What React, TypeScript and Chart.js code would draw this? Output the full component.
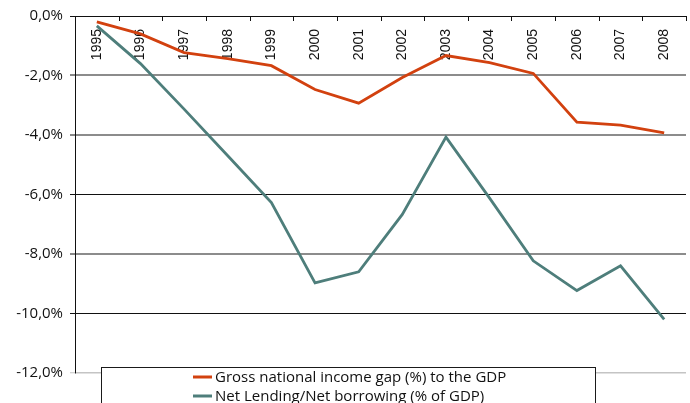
import React, { useEffect, useRef } from "react";
import { Chart, registerables } from "chart.js";

Chart.register(...registerables);

// Years shown along the top of the plot
const years = [
  "1995", "1996", "1997", "1998", "1999", "2000", "2001",
  "2002", "2003", "2004", "2005", "2006", "2007", "2008",
];

// Gross national income gap (%) to the GDP
const incomeGap = [
  -0.2, -0.6, -1.23, -1.43, -1.67, -2.47, -2.93,
  -2.07, -1.33, -1.57, -1.93, -3.57, -3.67, -3.93,
];

// Net lending / net borrowing (% of GDP)
const netLending = [
  -0.33, -1.6, -3.13, -4.7, -6.27, -8.97, -8.6,
  -6.67, -4.07, -6.12, -8.23, -9.23, -8.4, -10.2,
];

const seriesNames = [
  "Gross national income gap (%) to the GDP",
  "Net Lending/Net borrowing (% of GDP)",
];
const seriesColors = ["#d2410f", "#4e7e7b"];

const yMin = -12;
const yMax = 0;
const yStep = 2;

const LABEL_FONT = "14px 'Liberation Sans', Arial, sans-serif";
const TEXT_FONT = "'Open Sans', 'Noto Sans', sans-serif";

const formatPct = (v: number) => v.toFixed(1).replace(".", ",") + "%";

// Grid colours: thin black rules, wider grey rules and a pale bottom rule
const gridColor = (v: number) => {
  if (v === -12) return "#c4c4c4";
  if (v === 0 || v === -6 || v === -10) return "#111111";
  return "#8c8c8c";
};
const gridWidth = (v: number) => {
  if (v === -12) return 1.5;
  if (v === 0 || v === -6 || v === -10) return 1;
  return 2;
};

// Year labels and tick marks hanging inside the plot from its top edge
const topAxisPlugin = {
  id: "topYearAxis",
  beforeDatasetsDraw(chart: any) {
    const { ctx, chartArea, scales } = chart;
    const x = scales.x;
    const n = years.length;
    const centers = years.map((_, i) => x.getPixelForValue(i));
    const bounds: number[] = [chartArea.left];
    for (let i = 0; i < n - 1; i++) bounds.push((centers[i] + centers[i + 1]) / 2);
    bounds.push(chartArea.right);

    ctx.save();
    ctx.strokeStyle = "#111111";
    ctx.lineWidth = 1;
    ctx.beginPath();
    bounds.forEach((b) => {
      const px = Math.round(b) + 0.5;
      ctx.moveTo(px, chartArea.top);
      ctx.lineTo(px, chartArea.top + 5);
    });
    ctx.stroke();

    ctx.fillStyle = "#111111";
    ctx.font = LABEL_FONT;
    ctx.textAlign = "right";
    ctx.textBaseline = "middle";
    centers.forEach((cx, i) => {
      ctx.save();
      ctx.translate(cx, chartArea.top + 13);
      ctx.rotate(-Math.PI / 2);
      ctx.fillText(years[i], 0, 0);
      ctx.restore();
    });
    ctx.restore();
  },
};

// Boxed legend sitting over the lower edge of the plot
const boxLegendPlugin = {
  id: "boxLegend",
  afterDraw(chart: any) {
    const { ctx, chartArea } = chart;
    const left = chartArea.left + 26;
    const top = chartArea.bottom - 6;
    const width = 494;
    ctx.save();
    ctx.fillStyle = "#ffffff";
    ctx.fillRect(left, top, width, 80);
    ctx.strokeStyle = "#1a1a1a";
    ctx.lineWidth = 1;
    ctx.strokeRect(Math.round(left) + 0.5, Math.round(top) + 0.5, width, 80);

    ctx.font = "15px " + TEXT_FONT;
    ctx.textAlign = "left";
    ctx.textBaseline = "middle";
    seriesNames.forEach((name, i) => {
      const y = top + 10 + i * 19;
      ctx.strokeStyle = seriesColors[i];
      ctx.lineWidth = 3;
      ctx.beginPath();
      ctx.moveTo(left + 92, y);
      ctx.lineTo(left + 111, y);
      ctx.stroke();
      ctx.fillStyle = "#111111";
      ctx.fillText(name, left + 114, y + 1);
    });
    ctx.restore();
  },
};

export default function App() {
  const canvasRef = useRef<HTMLCanvasElement | null>(null);

  useEffect(() => {
    if (!canvasRef.current) return;
    const chart = new Chart(canvasRef.current, {
      type: "line",
      data: {
        labels: years,
        datasets: [
          {
            label: seriesNames[0],
            data: incomeGap,
            borderColor: seriesColors[0],
            backgroundColor: seriesColors[0],
            borderWidth: 2.8,
            pointRadius: 0,
            tension: 0,
          },
          {
            label: seriesNames[1],
            data: netLending,
            borderColor: seriesColors[1],
            backgroundColor: seriesColors[1],
            borderWidth: 2.8,
            pointRadius: 0,
            tension: 0,
          },
        ],
      },
      options: {
        responsive: false,
        animation: false,
        devicePixelRatio: 1,
        layout: { padding: { top: 15, right: 4, bottom: 30, left: 0 } },
        plugins: {
          legend: { display: false },
          tooltip: { enabled: false },
        },
        scales: {
          x: {
            type: "category",
            offset: true,
            display: false,
          },
          y: {
            min: yMin,
            max: yMax,
            afterFit: (scale: any) => {
              scale.width = 75;
            },
            border: { display: true, color: "#111111", width: 1 },
            grid: {
              color: (c: any) => gridColor(c.tick ? c.tick.value : 0),
              lineWidth: (c: any) => gridWidth(c.tick ? c.tick.value : 0),
              tickColor: (c: any) =>
                c.tick && c.tick.value === -12 ? "#c4c4c4" : "#111111",
              tickLength: 5,
              tickWidth: 1,
            },
            ticks: {
              stepSize: yStep,
              padding: 7,
              color: "#111111",
              font: { family: TEXT_FONT, size: 15 },
              callback: (v: any) => formatPct(Number(v)),
            },
          },
        },
      },
      plugins: [topAxisPlugin, boxLegendPlugin],
    });
    return () => chart.destroy();
  }, []);

  return (
    <div style={{ position: "fixed", left: 0, top: 0, width: 690, height: 403, background: "#ffffff" }}>
      <canvas ref={canvasRef} width={690} height={403} />
    </div>
  );
}
